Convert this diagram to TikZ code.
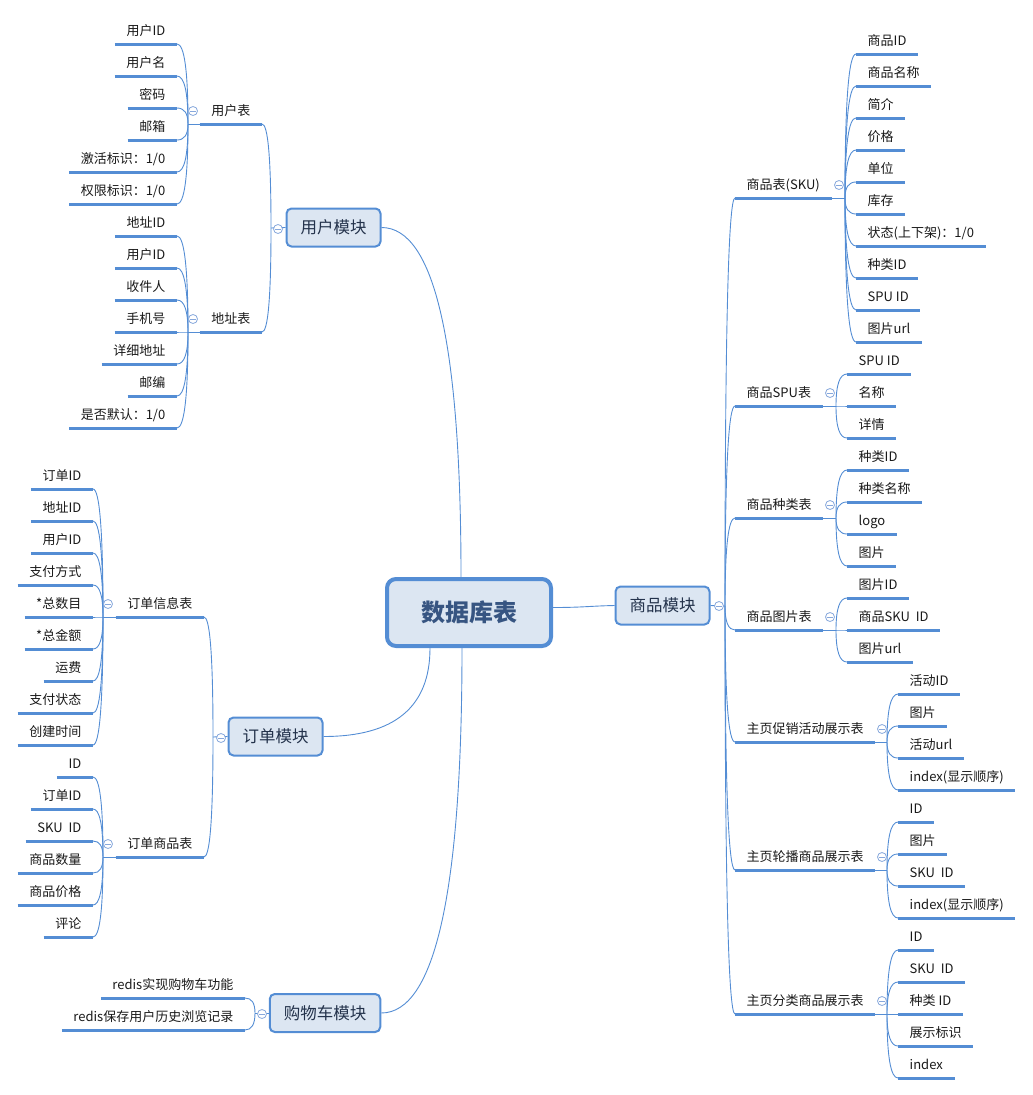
\documentclass[tikz,border=0pt]{standalone}
\usepackage{fontspec}
\setmainfont{Noto Sans CJK SC}
\usetikzlibrary{backgrounds,calc}
\definecolor{ln}{RGB}{84,141,212}
\definecolor{boxfill}{RGB}{220,230,242}
\definecolor{cir}{RGB}{135,168,220}
\definecolor{txt}{RGB}{25,25,25}
\definecolor{modtxt}{RGB}{35,50,75}
\definecolor{roottxt}{RGB}{55,85,130}
\begin{document}
\begin{tikzpicture}[x=1pt,y=-1pt,
  lf/.style={font=\fontsize{13}{15}\selectfont, text=txt, inner xsep=11.5pt, inner ysep=5pt, text height=10pt, text depth=3pt},
  leafL/.style={lf, anchor=south east},
  leafR/.style={lf, anchor=south west},
  ul/.style={draw=ln, line width=3pt},
  conn/.style={draw=ln, line width=0.9pt},
  elbow/.style={to path={.. controls ($(\tikztostart)!0.667!(\tikztostart |- \tikztotarget)$) and ($(\tikztotarget)!0.667!(\tikztostart |- \tikztotarget)$) .. (\tikztotarget)}},
  module/.style={draw=ln, fill=boxfill, line width=2pt, rounded corners=5pt, inner xsep=14pt, minimum height=38pt, font=\fontsize{16.5}{18}\selectfont, text=modtxt},
  root/.style={draw=ln, fill=boxfill, line width=4pt, rounded corners=9pt, minimum width=164pt, minimum height=67pt, font=\fontsize{24}{26}\selectfont\bfseries, text=roottxt},
  tog/.style={circle, draw=cir, fill=white, line width=0.8pt, minimum size=9pt, inner sep=0pt,
    path picture={\draw[cir, line width=0.8pt] ([xshift=-2.6pt]path picture bounding box.center) -- ([xshift=2.6pt]path picture bounding box.center);}}
]
\useasboundingbox (0,0) rectangle (1033,1095);

% root and modules
\node[root] (root) at (469,612.5) {数据库表};
\node[module] (mUser) at (333.5,227.5) {用户模块};
\node[module] (mOrder) at (275.5,736.5) {订单模块};
\node[module] (mCart) at (325,1013) {购物车模块};
\node[module] (mGoods) at (662.5,605.5) {商品模块};

\coordinate (rTop) at (461,577);
\coordinate (rBotA) at (430,648);
\coordinate (rBotB) at (462,648);
\coordinate (rEast) at (553,607.5);

% junctions
\coordinate (jUser) at (271,228);
\coordinate (jOrder) at (213,737);
\coordinate (jCart) at (255,1013);
\coordinate (jGoods) at (725,606);
\coordinate (jU1) at (188,124);
\coordinate (jU2) at (188,332);
\coordinate (jO1) at (103,617);
\coordinate (jO2) at (103,857);
\coordinate (jG1) at (845,198);
\coordinate (jG2) at (836,406);
\coordinate (jG3) at (836,518);
\coordinate (jG4) at (836,630);
\coordinate (jG5) at (887,742);
\coordinate (jG6) at (887,870);
\coordinate (jG7) at (887,1014);

% tables
\node[leafL] (tU1) at (262,124) {用户表};
\node[leafL] (tU2) at (262,332) {地址表};
\node[leafL] (tO1) at (204,617) {订单信息表};
\node[leafL] (tO2) at (204,857) {订单商品表};
\node[leafR] (tG1) at (735,198) {商品表(SKU)};
\node[leafR] (tG2) at (735,406) {商品SPU表};
\node[leafR] (tG3) at (735,518) {商品种类表};
\node[leafR] (tG4) at (735,630) {商品图片表};
\node[leafR] (tG5) at (735,742) {主页促销活动展示表};
\node[leafR] (tG6) at (735,870) {主页轮播商品展示表};
\node[leafR] (tG7) at (735,1014) {主页分类商品展示表};

% left leaves
\node[leafL] (u1) at (177,44) {用户ID};
\node[leafL] (u2) at (177,76) {用户名};
\node[leafL] (u3) at (177,108) {密码};
\node[leafL] (u4) at (177,140) {邮箱};
\node[leafL] (u5) at (177,172) {激活标识：1/0};
\node[leafL] (u6) at (177,204) {权限标识：1/0};
\node[leafL] (a1) at (177,236) {地址ID};
\node[leafL] (a2) at (177,268) {用户ID};
\node[leafL] (a3) at (177,300) {收件人};
\node[leafL] (a4) at (177,332) {手机号};
\node[leafL] (a5) at (177,364) {详细地址};
\node[leafL] (a6) at (177,396) {邮编};
\node[leafL] (a7) at (177,428) {是否默认：1/0};
\node[leafL] (o1) at (93,489) {订单ID};
\node[leafL] (o2) at (93,521) {地址ID};
\node[leafL] (o3) at (93,553) {用户ID};
\node[leafL] (o4) at (93,585) {支付方式};
\node[leafL] (o5) at (93,617) {*总数目};
\node[leafL] (o6) at (93,649) {*总金额};
\node[leafL] (o7) at (93,681) {运费};
\node[leafL] (o8) at (93,713) {支付状态};
\node[leafL] (o9) at (93,745) {创建时间};
\node[leafL] (p1) at (93,777) {ID};
\node[leafL] (p2) at (93,809) {订单ID};
\node[leafL] (p3) at (93,841) {SKU\ \ ID};
\node[leafL] (p4) at (93,873) {商品数量};
\node[leafL] (p5) at (93,905) {商品价格};
\node[leafL] (p6) at (93,937) {评论};
\node[leafL] (c1) at (245,998) {redis实现购物车功能};
\node[leafL] (c2) at (245,1030) {redis保存用户历史浏览记录};

% right leaves
\node[leafR] (g1) at (856,54) {商品ID};
\node[leafR] (g2) at (856,86) {商品名称};
\node[leafR] (g3) at (856,118) {简介};
\node[leafR] (g4) at (856,150) {价格};
\node[leafR] (g5) at (856,182) {单位};
\node[leafR] (g6) at (856,214) {库存};
\node[leafR] (g7) at (856,246) {状态(上下架)：1/0};
\node[leafR] (g8) at (856,278) {种类ID};
\node[leafR] (g9) at (856,310) {SPU ID};
\node[leafR] (g10) at (856,342) {图片url};
\node[leafR] (s1) at (847,374) {SPU ID};
\node[leafR] (s2) at (847,406) {名称};
\node[leafR] (s3) at (847,438) {详情};
\node[leafR] (k1) at (847,470) {种类ID};
\node[leafR] (k2) at (847,502) {种类名称};
\node[leafR] (k3) at (847,534) {logo};
\node[leafR] (k4) at (847,566) {图片};
\node[leafR] (i1) at (847,598) {图片ID};
\node[leafR] (i2) at (847,630) {商品SKU\ \ ID};
\node[leafR] (i3) at (847,662) {图片url};
\node[leafR] (h1) at (898,694) {活动ID};
\node[leafR] (h2) at (898,726) {图片};
\node[leafR] (h3) at (898,758) {活动url};
\node[leafR] (h4) at (898,790) {index(显示顺序)};
\node[leafR] (r1) at (898,822) {ID};
\node[leafR] (r2) at (898,854) {图片};
\node[leafR] (r3) at (898,886) {SKU\ \ ID};
\node[leafR] (r4) at (898,918) {index(显示顺序)};
\node[leafR] (f1) at (898,950) {ID};
\node[leafR] (f2) at (898,982) {SKU\ \ ID};
\node[leafR] (f3) at (898,1014) {种类 ID};
\node[leafR] (f4) at (898,1046) {展示标识};
\node[leafR] (f5) at (898,1078) {index};

\begin{scope}[on background layer]
% underlines
\foreach \n in {tU1,tU2,tO1,tO2,tG1,tG2,tG3,tG4,tG5,tG6,tG7,
  u1,u2,u3,u4,u5,u6,a1,a2,a3,a4,a5,a6,a7,o1,o2,o3,o4,o5,o6,o7,o8,o9,p1,p2,p3,p4,p5,p6,c1,c2,
  g1,g2,g3,g4,g5,g6,g7,g8,g9,g10,s1,s2,s3,k1,k2,k3,k4,i1,i2,i3,h1,h2,h3,h4,r1,r2,r3,r4,f1,f2,f3,f4,f5}
  \draw[ul] (\n.south west) -- (\n.south east);
% root to modules
\draw[conn] (rTop) to[elbow] (mUser.east);
\draw[conn] (rBotA) to[elbow] (mOrder.east);
\draw[conn] (rBotB) to[elbow] (mCart.east);
\draw[conn] (rEast) .. controls (583,607.5) and (590,606) .. (mGoods.west);
% modules to junctions
\draw[conn] (mUser.west) -- (jUser);
\draw[conn] (mOrder.west) -- (jOrder);
\draw[conn] (mCart.west) -- (jCart);
\draw[conn] (mGoods.east) -- (jGoods);
% junctions to tables
\draw[conn] (jUser) to[elbow] (tU1.south east);
\draw[conn] (jUser) to[elbow] (tU2.south east);
\draw[conn] (jOrder) to[elbow] (tO1.south east);
\draw[conn] (jOrder) to[elbow] (tO2.south east);
\foreach \t in {tG1,tG2,tG3,tG4,tG5,tG6,tG7}
  \draw[conn] (jGoods) to[elbow] (\t.south west);
% tables to their junctions
\draw[conn] (tU1.south west) -- (jU1);
\draw[conn] (tU2.south west) -- (jU2);
\draw[conn] (tO1.south west) -- (jO1);
\draw[conn] (tO2.south west) -- (jO2);
\draw[conn] (tG1.south east) -- (jG1);
\draw[conn] (tG2.south east) -- (jG2);
\draw[conn] (tG3.south east) -- (jG3);
\draw[conn] (tG4.south east) -- (jG4);
\draw[conn] (tG5.south east) -- (jG5);
\draw[conn] (tG6.south east) -- (jG6);
\draw[conn] (tG7.south east) -- (jG7);
% junctions to leaves
\foreach \n in {u1,u2,u3,u4,u5,u6} \draw[conn] (jU1) to[elbow] (\n.south east);
\foreach \n in {a1,a2,a3,a4,a5,a6,a7} \draw[conn] (jU2) to[elbow] (\n.south east);
\foreach \n in {o1,o2,o3,o4,o5,o6,o7,o8,o9} \draw[conn] (jO1) to[elbow] (\n.south east);
\foreach \n in {p1,p2,p3,p4,p5,p6} \draw[conn] (jO2) to[elbow] (\n.south east);
\foreach \n in {c1,c2} \draw[conn] (jCart) to[elbow] (\n.south east);
\foreach \n in {g1,g2,g3,g4,g5,g6,g7,g8,g9,g10} \draw[conn] (jG1) to[elbow] (\n.south west);
\foreach \n in {s1,s2,s3} \draw[conn] (jG2) to[elbow] (\n.south west);
\foreach \n in {k1,k2,k3,k4} \draw[conn] (jG3) to[elbow] (\n.south west);
\foreach \n in {i1,i2,i3} \draw[conn] (jG4) to[elbow] (\n.south west);
\foreach \n in {h1,h2,h3,h4} \draw[conn] (jG5) to[elbow] (\n.south west);
\foreach \n in {r1,r2,r3,r4} \draw[conn] (jG6) to[elbow] (\n.south west);
\foreach \n in {f1,f2,f3,f4,f5} \draw[conn] (jG7) to[elbow] (\n.south west);
\end{scope}

% collapse toggles
\node[tog] (xUser) at (278,229) {};
\node[tog] (xOrder) at (221,738) {};
\node[tog] (xCart) at (262,1014) {};
\node[tog] (xGoods) at (719,606) {};
\node[tog] (xU1) at (193,111) {};
\node[tog] (xU2) at (193,319) {};
\node[tog] (xO1) at (108,604) {};
\node[tog] (xO2) at (108,844) {};
\node[tog] (xG1) at (839,185) {};
\node[tog] (xG2) at (830,393) {};
\node[tog] (xG3) at (830,505) {};
\node[tog] (xG4) at (830,617) {};
\node[tog] (xG5) at (882,729) {};
\node[tog] (xG6) at (882,857) {};
\node[tog] (xG7) at (882,1001) {};
\end{tikzpicture}
\end{document}
